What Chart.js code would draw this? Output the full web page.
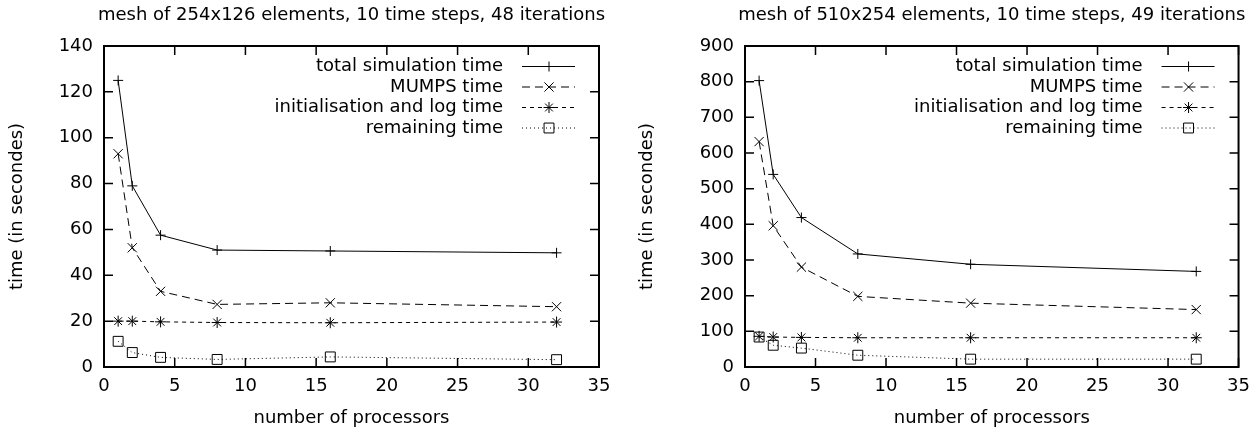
<!DOCTYPE html>
<html>
<head>
<meta charset="utf-8">
<script src="https://cdn.jsdelivr.net/npm/chart.js@4.4.0/dist/chart.umd.min.js"></script>
<style>
  html, body { margin: 0; padding: 0; background: #fff; }
  #wrap { position: relative; width: 1259px; height: 432px; }
  #left { position: absolute; left: 0; top: 0; }
  #right { position: absolute; left: 630px; top: 0; }
</style>
</head>
<body>
<div id="wrap">
  <canvas id="left" width="630" height="432"></canvas>
  <canvas id="right" width="629" height="432"></canvas>
</div>
<script>
// number of processors
const procs = [1, 2, 4, 8, 16, 32];

// mesh 254x126
const smallTotal = [125, 79, 57.5, 51, 50.6, 49.8];
const smallMumps = [93, 52, 33, 27.3, 28, 26.3];
const smallInit = [20, 20, 19.7, 19.4, 19.3, 19.6];
const smallRest = [11.2, 6.3, 4.2, 3.3, 4.4, 3.2];

// mesh 510x254
const bigTotal = [803, 540, 419, 317, 288, 268];
const bigMumps = [632, 396, 280, 198, 179, 161];
const bigInit = [86, 84, 83, 82, 82, 82];
const bigRest = [84, 61, 53, 33, 22, 22];

const seriesNames = ['total simulation time', 'MUMPS time', 'initialisation and log time', 'remaining time'];
const xTicks = [0, 5, 10, 15, 20, 25, 30, 35];

const FONT = { family: 'DejaVu Sans', size: 18 };

function pts(vals) {
  return procs.map((p, i) => ({ x: p, y: vals[i] }));
}

function makeDatasets(vals) {
  const styles = [
    { pointStyle: 'cross', pointRadius: 5, borderDash: [] },
    { pointStyle: 'crossRot', pointRadius: 6.5, borderDash: [8, 5] },
    { pointStyle: 'star', pointRadius: 5.5, borderDash: [4, 4] },
    { pointStyle: 'rect', pointRadius: 7, borderDash: [1, 3] }
  ];
  return vals.map((v, i) => ({
    label: seriesNames[i],
    data: pts(v),
    borderColor: '#000',
    borderWidth: 1,
    pointBorderColor: '#000',
    pointBackgroundColor: 'rgba(0,0,0,0)',
    pointBorderWidth: 1,
    borderDash: styles[i].borderDash,
    pointStyle: styles[i].pointStyle,
    pointRadius: styles[i].pointRadius,
    tension: 0
  }));
}

// frame, inward ticks, title and gnuplot-like key
const gnuFrame = {
  id: 'gnuFrame',
  afterDraw(chart, args, opts) {
    const { ctx, chartArea: a, scales } = chart;
    ctx.save();
    ctx.strokeStyle = '#000';
    ctx.lineWidth = 1.5;
    ctx.beginPath();
    xTicks.forEach(t => {
      const px = scales.x.getPixelForValue(t);
      ctx.moveTo(px, a.bottom); ctx.lineTo(px, a.bottom - 9);
      ctx.moveTo(px, a.top); ctx.lineTo(px, a.top + 9);
    });
    opts.yTicks.forEach(t => {
      const py = scales.y.getPixelForValue(t);
      ctx.moveTo(a.left, py); ctx.lineTo(a.left + 9, py);
      ctx.moveTo(a.right, py); ctx.lineTo(a.right - 9, py);
    });
    ctx.stroke();
    ctx.lineWidth = 2;
    ctx.strokeRect(a.left, a.top, a.right - a.left, a.bottom - a.top);

    ctx.fillStyle = '#000';
    ctx.font = FONT.size + 'px ' + FONT.family;
    ctx.textBaseline = 'middle';
    ctx.textAlign = 'center';
    ctx.fillText(opts.title, (a.left + a.right) / 2, 15);

    // key
    ctx.textAlign = 'right';
    chart.data.datasets.forEach((ds, i) => {
      const y = a.top + 20.5 + i * 20.5;
      ctx.fillStyle = '#000';
      ctx.fillText(ds.label, a.right - 96, y);
      ctx.setLineDash(ds.borderDash);
      ctx.lineWidth = 1;
      ctx.beginPath();
      ctx.moveTo(a.right - 77, y);
      ctx.lineTo(a.right - 24, y);
      ctx.stroke();
      ctx.setLineDash([]);
      ctx.fillStyle = 'rgba(0,0,0,0)';
      Chart.helpers.drawPoint(ctx, {
        pointStyle: ds.pointStyle,
        radius: ds.pointRadius,
        borderWidth: 1,
        rotation: 0
      }, a.right - 50, y);
    });
    ctx.restore();
  }
};

function makeChart(id, vals, yMax, yStep, yWidth, padRight, title) {
  const yTicks = [];
  for (let v = 0; v <= yMax; v += yStep) yTicks.push(v);
  return new Chart(document.getElementById(id), {
    type: 'line',
    data: { datasets: makeDatasets(vals) },
    plugins: [gnuFrame],
    options: {
      responsive: false,
      animation: false,
      devicePixelRatio: 1,
      layout: { padding: { top: 46, right: padRight, left: 0, bottom: 0 } },
      plugins: {
        legend: { display: false },
        tooltip: { enabled: false },
        gnuFrame: { title: title, yTicks: yTicks }
      },
      scales: {
        x: {
          type: 'linear',
          min: 0,
          max: 35,
          afterBuildTicks: s => { s.ticks = xTicks.map(v => ({ value: v })); },
          ticks: { color: '#000', font: FONT, padding: 9, maxRotation: 0 },
          grid: { display: false, drawTicks: false },
          border: { display: false },
          title: { display: true, text: 'number of processors', color: '#000', font: FONT, padding: { top: 0, bottom: 3 } },
          afterFit: s => { s.height = 65; }
        },
        y: {
          min: 0,
          max: yMax,
          afterBuildTicks: s => { s.ticks = yTicks.map(v => ({ value: v })); },
          ticks: { color: '#000', font: FONT, padding: 11 },
          grid: { display: false, drawTicks: false },
          border: { display: false },
          title: { display: true, text: 'time (in secondes)', color: '#000', font: FONT, padding: { top: 7, bottom: 0 } },
          afterFit: s => { s.width = yWidth; }
        }
      }
    }
  });
}

makeChart('left', [smallTotal, smallMumps, smallInit, smallRest], 140, 20, 104, 31,
  'mesh of 254x126 elements, 10 time steps, 48 iterations');
makeChart('right', [bigTotal, bigMumps, bigInit, bigRest], 900, 100, 115, 18,
  'mesh of 510x254 elements, 10 time steps, 49 iterations');
</script>
</body>
</html>
